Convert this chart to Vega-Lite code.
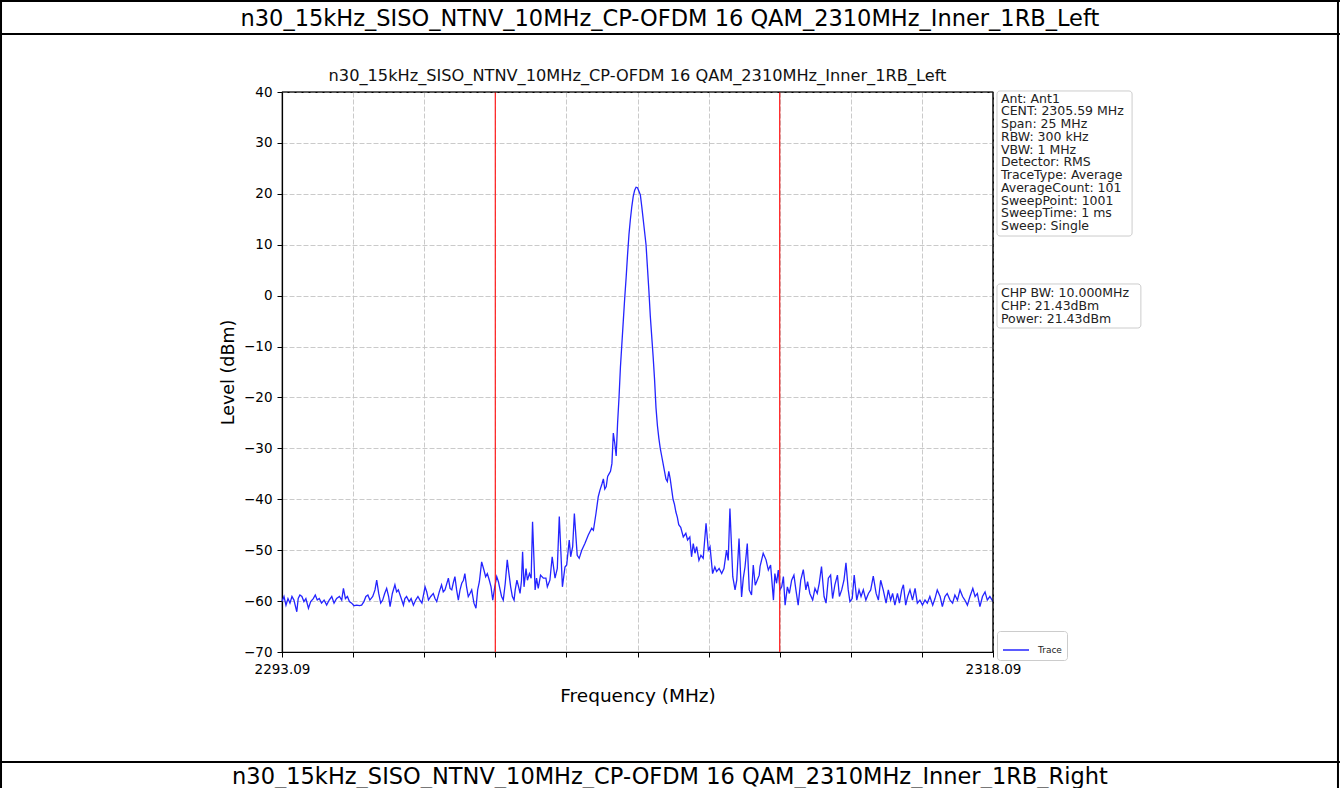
{
"$schema": "https://vega.github.io/schema/vega-lite/v6.json",
"width": 711,
"height": 560,
"autosize": {"type": "none"},
"padding": {"left": 282, "top": 92, "right": 347, "bottom": 136},
"background": "white",
"data": {"values": [{}]},
"config": {
  "font": "DejaVu Sans",
  "view": {"stroke": "#000000", "strokeWidth": 1.2},
  "axis": {"domainColor": "#000000", "domainWidth": 1.2, "tickColor": "#000000", "tickSize": 5, "labelColor": "#000000", "titleColor": "#000000", "titleFontWeight": "normal", "gridColor": "#c4c4c4", "gridDash": [5, 2], "gridWidth": 0.9, "labelFontSize": 13.5}
},
"datasets": {
  "channel": [{"freq": 2300.59, "edge": "lower"}, {"freq": 2310.59, "edge": "upper"}],
  "trace": [
{"freq":2293.09,"level":-60.1},{"freq":2293.16,"level":-59.1},{"freq":2293.23,"level":-60.8},{"freq":2293.30,"level":-59.5},{"freq":2293.37,"level":-60.4},{"freq":2293.44,"level":-59.1},{"freq":2293.51,"level":-59.8},{"freq":2293.61,"level":-62.1},{"freq":2293.66,"level":-59.5},{"freq":2293.72,"level":-58.8},{"freq":2293.79,"level":-59.1},{"freq":2293.86,"level":-60.1},{"freq":2293.93,"level":-59.5},{"freq":2294.02,"level":-61.4},{"freq":2294.10,"level":-60.1},{"freq":2294.19,"level":-59.5},{"freq":2294.26,"level":-58.8},{"freq":2294.33,"level":-59.8},{"freq":2294.40,"level":-59.5},{"freq":2294.48,"level":-60.4},{"freq":2294.57,"level":-59.8},{"freq":2294.66,"level":-60.8},{"freq":2294.75,"level":-59.8},{"freq":2294.84,"level":-59.1},{"freq":2294.92,"level":-60.4},{"freq":2295.01,"level":-59.5},{"freq":2295.11,"level":-59.1},{"freq":2295.19,"level":-59.8},{"freq":2295.25,"level":-57.5},{"freq":2295.32,"level":-59.5},{"freq":2295.39,"level":-59.1},{"freq":2295.46,"level":-60.1},{"freq":2295.54,"level":-60.4},{"freq":2295.62,"level":-60.9},{"freq":2295.72,"level":-60.8},{"freq":2295.81,"level":-60.9},{"freq":2295.89,"level":-60.8},{"freq":2295.97,"level":-60.1},{"freq":2296.04,"level":-59.1},{"freq":2296.11,"level":-58.8},{"freq":2296.18,"level":-59.8},{"freq":2296.28,"level":-59.1},{"freq":2296.36,"level":-57.8},{"freq":2296.42,"level":-55.9},{"freq":2296.49,"level":-58.5},{"freq":2296.56,"level":-60.4},{"freq":2296.63,"level":-59.8},{"freq":2296.70,"level":-58.5},{"freq":2296.77,"level":-57.5},{"freq":2296.84,"level":-59.1},{"freq":2296.89,"level":-61.1},{"freq":2296.97,"level":-58.5},{"freq":2297.06,"level":-56.8},{"freq":2297.12,"level":-58.2},{"freq":2297.18,"level":-57.8},{"freq":2297.26,"level":-59.1},{"freq":2297.36,"level":-60.8},{"freq":2297.41,"level":-59.5},{"freq":2297.47,"level":-59.1},{"freq":2297.56,"level":-60.1},{"freq":2297.63,"level":-59.5},{"freq":2297.71,"level":-60.8},{"freq":2297.79,"level":-59.8},{"freq":2297.87,"level":-59.1},{"freq":2297.94,"level":-59.8},{"freq":2298.01,"level":-60.4},{"freq":2298.12,"level":-57.2},{"freq":2298.18,"level":-58.2},{"freq":2298.24,"level":-59.8},{"freq":2298.32,"level":-59.1},{"freq":2298.41,"level":-58.5},{"freq":2298.47,"level":-59.5},{"freq":2298.53,"level":-60.1},{"freq":2298.62,"level":-58.2},{"freq":2298.70,"level":-56.8},{"freq":2298.76,"level":-58.2},{"freq":2298.82,"level":-57.8},{"freq":2298.94,"level":-55.5},{"freq":2299.00,"level":-57.5},{"freq":2299.06,"level":-57.8},{"freq":2299.11,"level":-56.5},{"freq":2299.17,"level":-55.2},{"freq":2299.23,"level":-57.8},{"freq":2299.29,"level":-59.8},{"freq":2299.35,"level":-57.8},{"freq":2299.41,"level":-56.5},{"freq":2299.47,"level":-55.9},{"freq":2299.52,"level":-54.6},{"freq":2299.58,"level":-57.2},{"freq":2299.64,"level":-59.1},{"freq":2299.70,"level":-58.5},{"freq":2299.76,"level":-57.8},{"freq":2299.84,"level":-60.4},{"freq":2299.91,"level":-61.4},{"freq":2299.97,"level":-57.8},{"freq":2300.03,"level":-56.2},{"freq":2300.11,"level":-52.3},{"freq":2300.19,"level":-53.9},{"freq":2300.25,"level":-55.2},{"freq":2300.31,"level":-54.6},{"freq":2300.38,"level":-55.9},{"freq":2300.44,"level":-57.2},{"freq":2300.50,"level":-59.8},{"freq":2300.57,"level":-57.2},{"freq":2300.64,"level":-55.2},{"freq":2300.70,"level":-56.2},{"freq":2300.76,"level":-57.8},{"freq":2300.81,"level":-59.1},{"freq":2300.87,"level":-59.8},{"freq":2300.94,"level":-56.5},{"freq":2301.01,"level":-51.9},{"freq":2301.07,"level":-54.6},{"freq":2301.13,"level":-57.2},{"freq":2301.19,"level":-59.1},{"freq":2301.25,"level":-59.8},{"freq":2301.29,"level":-57.8},{"freq":2301.35,"level":-55.9},{"freq":2301.41,"level":-57.2},{"freq":2301.46,"level":-58.5},{"freq":2301.51,"level":-56.0},{"freq":2301.55,"level":-50.3},{"freq":2301.60,"level":-57.2},{"freq":2301.67,"level":-53.6},{"freq":2301.72,"level":-55.9},{"freq":2301.79,"level":-54.6},{"freq":2301.85,"level":-55.5},{"freq":2301.90,"level":-44.4},{"freq":2301.99,"level":-57.8},{"freq":2302.04,"level":-55.5},{"freq":2302.10,"level":-57.5},{"freq":2302.18,"level":-54.9},{"freq":2302.28,"level":-55.5},{"freq":2302.37,"level":-55.5},{"freq":2302.42,"level":-57.2},{"freq":2302.51,"level":-55.9},{"freq":2302.59,"level":-51.3},{"freq":2302.69,"level":-55.5},{"freq":2302.77,"level":-53.6},{"freq":2302.84,"level":-43.4},{"freq":2302.95,"level":-57.2},{"freq":2303.04,"level":-53.3},{"freq":2303.10,"level":-52.9},{"freq":2303.19,"level":-48.0},{"freq":2303.24,"level":-51.3},{"freq":2303.31,"level":-49.3},{"freq":2303.37,"level":-42.8},{"freq":2303.47,"level":-51.0},{"freq":2303.54,"level":-51.6},{"freq":2303.63,"level":-50.0},{"freq":2303.74,"level":-48.7},{"freq":2303.86,"level":-47.0},{"freq":2303.98,"level":-45.7},{"freq":2304.04,"level":-46.1},{"freq":2304.13,"level":-42.8},{"freq":2304.21,"level":-39.5},{"freq":2304.27,"level":-38.2},{"freq":2304.34,"level":-37.0},{"freq":2304.39,"level":-36.0},{"freq":2304.44,"level":-38.0},{"freq":2304.49,"level":-37.5},{"freq":2304.54,"level":-35.5},{"freq":2304.59,"level":-35.0},{"freq":2304.64,"level":-34.5},{"freq":2304.69,"level":-33.0},{"freq":2304.74,"level":-27.0},{"freq":2304.79,"level":-29.0},{"freq":2304.84,"level":-31.5},{"freq":2304.89,"level":-25.0},{"freq":2304.94,"level":-20.0},{"freq":2304.99,"level":-14.0},{"freq":2305.04,"level":-9.5},{"freq":2305.09,"level":-5.0},{"freq":2305.14,"level":-0.5},{"freq":2305.19,"level":3.5},{"freq":2305.24,"level":8.0},{"freq":2305.29,"level":12.0},{"freq":2305.34,"level":15.0},{"freq":2305.39,"level":17.5},{"freq":2305.44,"level":19.5},{"freq":2305.49,"level":20.7},{"freq":2305.54,"level":21.3},{"freq":2305.59,"level":21.2},{"freq":2305.64,"level":20.5},{"freq":2305.69,"level":19.8},{"freq":2305.74,"level":17.5},{"freq":2305.79,"level":15.0},{"freq":2305.84,"level":12.5},{"freq":2305.89,"level":10.0},{"freq":2305.94,"level":5.5},{"freq":2305.99,"level":1.0},{"freq":2306.04,"level":-4.0},{"freq":2306.09,"level":-8.0},{"freq":2306.14,"level":-12.0},{"freq":2306.19,"level":-16.5},{"freq":2306.24,"level":-22.0},{"freq":2306.29,"level":-25.5},{"freq":2306.34,"level":-28.0},{"freq":2306.39,"level":-30.0},{"freq":2306.44,"level":-31.5},{"freq":2306.49,"level":-33.0},{"freq":2306.54,"level":-34.5},{"freq":2306.59,"level":-36.0},{"freq":2306.64,"level":-36.5},{"freq":2306.69,"level":-34.5},{"freq":2306.74,"level":-36.0},{"freq":2306.79,"level":-38.0},{"freq":2306.84,"level":-40.0},{"freq":2306.89,"level":-41.0},{"freq":2306.94,"level":-42.5},{"freq":2306.99,"level":-43.5},{"freq":2307.04,"level":-45.0},{"freq":2307.11,"level":-45.5},{"freq":2307.20,"level":-47.4},{"freq":2307.29,"level":-46.7},{"freq":2307.35,"level":-48.0},{"freq":2307.43,"level":-47.4},{"freq":2307.49,"level":-51.3},{"freq":2307.55,"level":-48.7},{"freq":2307.61,"level":-50.6},{"freq":2307.67,"level":-49.3},{"freq":2307.75,"level":-52.0},{"freq":2307.82,"level":-51.0},{"freq":2307.90,"level":-51.6},{"freq":2308.00,"level":-44.7},{"freq":2308.08,"level":-50.0},{"freq":2308.14,"level":-49.3},{"freq":2308.23,"level":-54.6},{"freq":2308.31,"level":-53.3},{"freq":2308.37,"level":-54.2},{"freq":2308.46,"level":-53.6},{"freq":2308.55,"level":-54.6},{"freq":2308.63,"level":-53.6},{"freq":2308.72,"level":-50.0},{"freq":2308.78,"level":-52.0},{"freq":2308.84,"level":-41.8},{"freq":2308.94,"level":-55.2},{"freq":2309.02,"level":-57.8},{"freq":2309.08,"level":-55.9},{"freq":2309.16,"level":-47.7},{"freq":2309.25,"level":-59.2},{"freq":2309.31,"level":-55.5},{"freq":2309.37,"level":-53.3},{"freq":2309.45,"level":-48.7},{"freq":2309.52,"level":-57.8},{"freq":2309.60,"level":-58.8},{"freq":2309.66,"level":-52.9},{"freq":2309.73,"level":-56.9},{"freq":2309.80,"level":-55.9},{"freq":2309.87,"level":-54.9},{"freq":2309.90,"level":-53.2},{"freq":2310.01,"level":-50.6},{"freq":2310.11,"level":-51.9},{"freq":2310.19,"level":-53.9},{"freq":2310.27,"level":-52.9},{"freq":2310.37,"level":-59.8},{"freq":2310.42,"level":-54.6},{"freq":2310.48,"level":-56.5},{"freq":2310.54,"level":-53.9},{"freq":2310.60,"level":-57.8},{"freq":2310.66,"level":-57.2},{"freq":2310.72,"level":-55.2},{"freq":2310.78,"level":-60.8},{"freq":2310.86,"level":-57.2},{"freq":2310.93,"level":-58.5},{"freq":2311.01,"level":-55.9},{"freq":2311.09,"level":-54.9},{"freq":2311.16,"level":-57.8},{"freq":2311.24,"level":-60.8},{"freq":2311.33,"level":-55.9},{"freq":2311.42,"level":-53.8},{"freq":2311.51,"level":-57.8},{"freq":2311.57,"level":-56.2},{"freq":2311.65,"level":-58.5},{"freq":2311.75,"level":-59.8},{"freq":2311.83,"level":-57.5},{"freq":2311.91,"level":-58.5},{"freq":2311.98,"level":-56.5},{"freq":2312.06,"level":-53.2},{"freq":2312.15,"level":-59.1},{"freq":2312.22,"level":-60.4},{"freq":2312.30,"level":-55.5},{"freq":2312.38,"level":-54.9},{"freq":2312.45,"level":-59.5},{"freq":2312.53,"level":-56.8},{"freq":2312.62,"level":-54.9},{"freq":2312.69,"level":-59.1},{"freq":2312.77,"level":-57.8},{"freq":2312.85,"level":-55.9},{"freq":2312.92,"level":-52.5},{"freq":2313.00,"level":-57.8},{"freq":2313.06,"level":-60.1},{"freq":2313.14,"level":-59.5},{"freq":2313.21,"level":-54.9},{"freq":2313.30,"level":-59.8},{"freq":2313.38,"level":-57.8},{"freq":2313.45,"level":-59.1},{"freq":2313.53,"level":-57.8},{"freq":2313.62,"level":-59.8},{"freq":2313.71,"level":-58.5},{"freq":2313.79,"level":-57.8},{"freq":2313.88,"level":-55.1},{"freq":2313.98,"level":-58.5},{"freq":2314.06,"level":-59.8},{"freq":2314.14,"level":-55.9},{"freq":2314.23,"level":-57.8},{"freq":2314.33,"level":-60.4},{"freq":2314.41,"level":-57.8},{"freq":2314.49,"level":-59.8},{"freq":2314.56,"level":-58.5},{"freq":2314.64,"level":-60.8},{"freq":2314.73,"level":-58.5},{"freq":2314.80,"level":-60.4},{"freq":2314.88,"level":-57.8},{"freq":2314.94,"level":-56.8},{"freq":2315.02,"level":-60.8},{"freq":2315.09,"level":-59.1},{"freq":2315.17,"level":-57.8},{"freq":2315.26,"level":-59.8},{"freq":2315.35,"level":-57.5},{"freq":2315.43,"level":-60.4},{"freq":2315.52,"level":-59.8},{"freq":2315.61,"level":-60.8},{"freq":2315.70,"level":-59.8},{"freq":2315.78,"level":-60.4},{"freq":2315.87,"level":-59.1},{"freq":2315.97,"level":-60.8},{"freq":2316.05,"level":-59.5},{"freq":2316.13,"level":-57.8},{"freq":2316.23,"level":-59.1},{"freq":2316.31,"level":-61.1},{"freq":2316.40,"level":-59.1},{"freq":2316.48,"level":-58.5},{"freq":2316.58,"level":-59.8},{"freq":2316.67,"level":-60.4},{"freq":2316.75,"level":-58.8},{"freq":2316.84,"level":-59.8},{"freq":2316.93,"level":-57.8},{"freq":2317.02,"level":-59.1},{"freq":2317.10,"level":-59.8},{"freq":2317.19,"level":-60.8},{"freq":2317.28,"level":-59.1},{"freq":2317.38,"level":-57.5},{"freq":2317.46,"level":-59.1},{"freq":2317.54,"level":-58.5},{"freq":2317.63,"level":-61.1},{"freq":2317.72,"level":-59.1},{"freq":2317.81,"level":-58.2},{"freq":2317.89,"level":-59.8},{"freq":2317.98,"level":-59.1},{"freq":2318.09,"level":-60.1}
  ]
},
"layer": [
  {
    "data": {"name": "trace"},
    "mark": {"type": "line", "strokeWidth": 1.3, "interpolate": "linear"},
    "encoding": {
      "x": {"field": "freq", "type": "quantitative", "title": "Frequency (MHz)",
        "scale": {"domain": [2293.09, 2318.09], "nice": false, "zero": false},
        "axis": {"values": [2293.09, 2295.59, 2298.09, 2300.59, 2303.09, 2305.59, 2308.09, 2310.59, 2313.09, 2315.59, 2318.09],
          "labelExpr": "(abs(datum.value-2293.09)<0.001 || abs(datum.value-2318.09)<0.001) ? format(datum.value, '.2f') : ''",
          "labelFlush": false, "labelOverlap": false, "labelPadding": 5, "titleFontSize": 18.5, "titlePadding": 11}},
      "y": {"field": "level", "type": "quantitative", "title": "Level (dBm)",
        "scale": {"domain": [-70, 40], "nice": false, "zero": false},
        "axis": {"values": [-70, -60, -50, -40, -30, -20, -10, 0, 10, 20, 30, 40], "labelPadding": 5, "titleFontSize": 17.5, "titlePadding": 6}},
      "color": {"datum": "Trace", "type": "nominal", "scale": {"range": ["#2424ff"]},
        "legend": {"orient": "none", "legendX": 715, "legendY": 539, "title": null, "symbolType": "stroke", "symbolSize": 676, "symbolStrokeWidth": 1.5, "labelFontSize": 9, "labelColor": "#222222", "labelOffset": 8, "padding": 5, "strokeColor": "#cccccc", "cornerRadius": 3, "fillColor": "#ffffff"}}
    }
  },
  {
    "data": {"name": "channel"},
    "mark": {"type": "rule", "color": "#ff1a1a", "strokeWidth": 1.2},
    "encoding": {"x": {"field": "freq", "type": "quantitative", "scale": {"domain": [2293.09, 2318.09], "nice": false, "zero": false}}}
  },
  {
    "mark": {"type": "rule", "color": "#000000", "strokeWidth": 1.2},
    "encoding": {"x": {"datum": 2293.09, "type": "quantitative"}, "x2": {"datum": 2318.09}, "y": {"datum": 40, "type": "quantitative"}}
  },
  {
    "mark": {"type": "rule", "color": "#000000", "strokeWidth": 1.2},
    "encoding": {"x": {"datum": 2318.09, "type": "quantitative"}, "y": {"datum": 40, "type": "quantitative"}, "y2": {"datum": -70}}
  },
  {
    "mark": {"type": "text", "align": "center", "baseline": "middle", "fontSize": 16.2, "color": "#111111"},
    "encoding": {"x": {"datum": 2305.59, "type": "quantitative"}, "y": {"datum": 43.14, "type": "quantitative"},
      "text": {"value": "n30_15kHz_SISO_NTNV_10MHz_CP-OFDM 16 QAM_2310MHz_Inner_1RB_Left"}}
  },
  {
    "mark": {"type": "rect", "fill": "#ffffff", "stroke": "#cccccc", "strokeWidth": 1, "cornerRadius": 3},
    "encoding": {"x": {"datum": 2318.23, "type": "quantitative"}, "x2": {"datum": 2322.98}, "y": {"datum": 40.2, "type": "quantitative"}, "y2": {"datum": 11.71}}
  },
  {
    "mark": {"type": "text", "align": "left", "baseline": "top", "fontSize": 12.5, "lineHeight": 12.75, "color": "#222222"},
    "encoding": {"x": {"datum": 2318.37, "type": "quantitative"}, "y": {"datum": 39.9, "type": "quantitative"},
      "text": {"value": ["Ant: Ant1", "CENT: 2305.59 MHz", "Span: 25 MHz", "RBW: 300 kHz", "VBW: 1 MHz", "Detector: RMS", "TraceType: Average", "AverageCount: 101", "SweepPoint: 1001", "SweepTime: 1 ms", "Sweep: Single"]}}
  },
  {
    "mark": {"type": "rect", "fill": "#ffffff", "stroke": "#cccccc", "strokeWidth": 1, "cornerRadius": 3},
    "encoding": {"x": {"datum": 2318.23, "type": "quantitative"}, "x2": {"datum": 2323.29}, "y": {"datum": 2.29, "type": "quantitative"}, "y2": {"datum": -6.36}}
  },
  {
    "mark": {"type": "text", "align": "left", "baseline": "top", "fontSize": 12.5, "lineHeight": 13, "color": "#222222"},
    "encoding": {"x": {"datum": 2318.37, "type": "quantitative"}, "y": {"datum": 1.7, "type": "quantitative"},
      "text": {"value": ["CHP BW: 10.000MHz", "CHP: 21.43dBm", "Power: 21.43dBm"]}}
  },
  {
    "mark": {"type": "text", "align": "center", "baseline": "middle", "fontSize": 22.5, "color": "#000000"},
    "encoding": {"x": {"datum": 2306.73, "type": "quantitative"}, "y": {"datum": 54.3, "type": "quantitative"},
      "text": {"value": "n30_15kHz_SISO_NTNV_10MHz_CP-OFDM 16 QAM_2310MHz_Inner_1RB_Left"}}
  },
  {
    "mark": {"type": "text", "align": "center", "baseline": "middle", "fontSize": 22.5, "color": "#000000"},
    "encoding": {"x": {"datum": 2306.73, "type": "quantitative"}, "y": {"datum": -94.6, "type": "quantitative"},
      "text": {"value": "n30_15kHz_SISO_NTNV_10MHz_CP-OFDM 16 QAM_2310MHz_Inner_1RB_Right"}}
  },
  {
    "mark": {"type": "rule", "color": "#000000", "strokeWidth": 2},
    "encoding": {"x": {"datum": 2283.17, "type": "quantitative"}, "x2": {"datum": 2330.29}, "y": {"datum": 57.87, "type": "quantitative"}}
  },
  {
    "mark": {"type": "rule", "color": "#000000", "strokeWidth": 2},
    "encoding": {"x": {"datum": 2283.17, "type": "quantitative"}, "x2": {"datum": 2330.29}, "y": {"datum": 51.39, "type": "quantitative"}}
  },
  {
    "mark": {"type": "rule", "color": "#000000", "strokeWidth": 2},
    "encoding": {"x": {"datum": 2283.17, "type": "quantitative"}, "x2": {"datum": 2330.29}, "y": {"datum": -91.61, "type": "quantitative"}}
  },
  {
    "mark": {"type": "rule", "color": "#000000", "strokeWidth": 2},
    "encoding": {"x": {"datum": 2283.21, "type": "quantitative"}, "y": {"datum": 58.07, "type": "quantitative"}, "y2": {"datum": -96.7}}
  },
  {
    "mark": {"type": "rule", "color": "#000000", "strokeWidth": 2},
    "encoding": {"x": {"datum": 2330.22, "type": "quantitative"}, "y": {"datum": 58.07, "type": "quantitative"}, "y2": {"datum": -96.7}}
  }
]
}
